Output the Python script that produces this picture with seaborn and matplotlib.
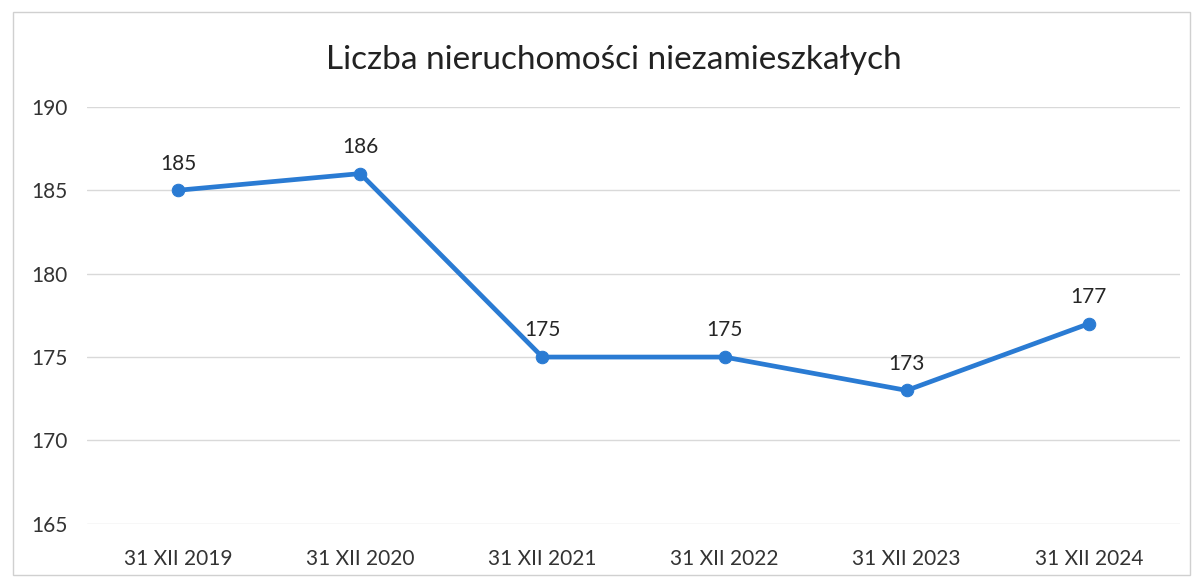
import pandas as pd
import matplotlib
matplotlib.use("Agg")
import matplotlib.pyplot as plt
import seaborn as sns
from matplotlib.patches import Rectangle

dates = ["31 XII 2019", "31 XII 2020", "31 XII 2021", "31 XII 2022", "31 XII 2023", "31 XII 2024"]
counts = [185, 186, 175, 175, 173, 177]
yticks = [165, 170, 175, 180, 185, 190]

df = pd.DataFrame({"data": dates, "liczba": counts})

sns.set_style("white")
plt.rcParams["font.family"] = ["Lato", "DejaVu Sans"]

fig = plt.figure(figsize=(11.97, 5.84), dpi=100)
ax = fig.add_axes([0.0727, 0.103, 0.913, 0.714])

blue = "#2a7bd3"
sns.lineplot(data=df, x="data", y="liczba", ax=ax, color=blue, linewidth=3.4,
             marker="o", markersize=9, markeredgecolor=blue, sort=False)

for i, v in enumerate(counts):
    ax.annotate(str(v), (i, v), xytext=(0, 12), textcoords="offset points",
                ha="center", va="bottom", fontsize=15, color="#262626")

ax.set_ylim(165, 190)
ax.set_yticks(yticks)
ax.set_xlim(-0.5, 5.5)
ax.grid(axis="y", color="#d9d9d9", linewidth=1)
ax.set_axisbelow(True)
for s in ax.spines.values():
    s.set_visible(False)
ax.tick_params(axis="both", length=0, labelsize=15, labelcolor="#333333")
ax.tick_params(axis="x", pad=18)
ax.tick_params(axis="y", pad=14)
ax.set_xlabel("")
ax.set_ylabel("")

fig.text(0.513, 0.897, "Liczba nieruchomości niezamieszkałych", ha="center", va="center",
         fontsize=24, color="#222222")

fig.patches.append(Rectangle((0.011, 0.015), 0.983, 0.965, transform=fig.transFigure,
                             fill=False, edgecolor="#d0d0d0", linewidth=1))

fig.savefig("out.png", dpi=100)
